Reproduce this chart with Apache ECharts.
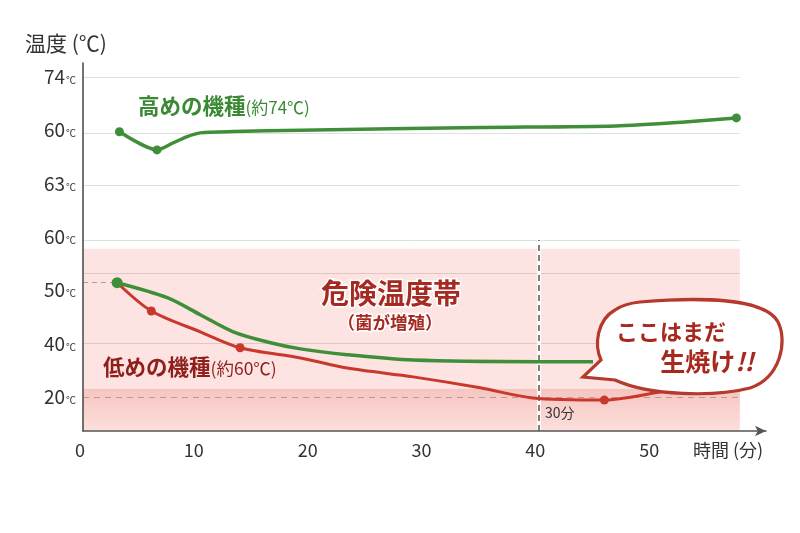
<!DOCTYPE html>
<html><head><meta charset="utf-8">
<script src="https://cdn.jsdelivr.net/npm/echarts@6/dist/echarts.min.js"></script>
<style>html,body{margin:0;padding:0;background:#fff}#c{width:800px;height:533px}</style>
</head><body><div id="c"></div>
<script>
// ---- data (y values are in the chart's evenly spaced label units) ----
const timeTicks = [0, 10, 20, 30, 40, 50];
const yLevels = [0, 10, 20, 30, 40, 50, 60];
const yTickLabels = ['20', '40', '50', '60', '63', '60', '74'];
const gridLevels = [60, 49.5, 39.6, 29.4, 23.2, 10];

const highTime = [3.2, 6.5, 7.9, 9.1, 10.3, 13.2, 19.1, 35.0, 46.8, 52.6, 57.4];
const highTemp = [49.7, 46.3, 47.6, 48.75, 49.5, 49.75, 50.0, 50.5, 50.8, 51.5, 52.3];
const highMarkers = [0, 1, 10];

const midTime = [3.0, 7.4, 10.3, 13.2, 16.2, 19.1, 23.2, 29.0, 39.9, 44.8];
const midTemp = [21.4, 18.6, 15.4, 12.2, 10.3, 9.0, 7.9, 6.9, 6.6, 6.6];
const midMarkers = [0];

const lowTime = [3.0, 6.0, 10.3, 13.8, 19.1, 23.2, 29.0, 34.9, 39.5, 45.8, 50.7, 52.5];
const lowTemp = [21.4, 16.1, 12.2, 9.2, 7.3, 5.4, 3.75, 1.7, -0.2, -0.6, 0.9, 1.5];
const lowMarkers = [1, 3, 9];

const dangerTop = 27.75, lowBandTop = 1.5, limitLevel = 0, checkTime = 40;
const yMin = -6.4, yMax = 62.6, xMax = 60, plotEnd = 57.7;

const FONT = '"Noto Sans CJK JP", "Noto Sans", sans-serif';
const GREEN = '#3f8f3a', RED = '#c9382c';
const BUBBLE = 'M 640 302 C 700 297 765 298 778 322 C 788 342 780 378 750 388 C 715 397 650 396 615 380 L 583 377 L 601 360 C 594 345 597 320 615 310 C 622 305 630 303 640 302 Z';

function build(t, v, markers, size) {
  return t.map((x, i) => markers.includes(i)
    ? { value: [x, v[i]], symbolSize: size }
    : { value: [x, v[i]], symbolSize: 0 });
}

const chart = echarts.init(document.getElementById('c'));
chart.setOption({
  animation: false,
  textStyle: { fontFamily: FONT },
  grid: { left: 83, right: 34, top: 63, bottom: 102 },
  xAxis: {
    type: 'value', min: 0, max: xMax, interval: 10, z: 10,
    axisLine: { onZero: false, lineStyle: { color: '#555', width: 1.5 }, symbol: ['none', 'arrow'], symbolSize: [8, 11] },
    axisTick: { show: false },
    splitLine: { show: false },
    axisLabel: {
      customValues: timeTicks,
      color: '#333', fontSize: 18, margin: 10, fontFamily: FONT, padding: [0, 6, 0, 0]
    }
  },
  yAxis: {
    type: 'value', min: yMin, max: yMax, z: 10,
    axisLine: { show: true, onZero: false, lineStyle: { color: '#444', width: 1.5 } },
    axisTick: { show: false },
    splitLine: { show: false },
    axisLabel: {
      customValues: yLevels, margin: 7,
      formatter: v => '{n|' + yTickLabels[yLevels.indexOf(Math.round(v))] + '}{u|℃}',
      rich: {
        n: { fontSize: 19, color: '#333', fontFamily: FONT },
        u: { fontSize: 10, color: '#333', fontFamily: FONT, padding: [7, 0, 0, 1] }
      }
    }
  },
  series: [
    { // danger band
      type: 'line', data: [], z: 1, silent: true,
      markArea: {
        silent: true,
        data: [
          [{ coord: [0, dangerTop], itemStyle: { color: '#fde3e1' } }, { coord: [plotEnd, lowBandTop] }],
          [{ coord: [0, lowBandTop], itemStyle: { color: {
            type: 'linear', x: 0, y: 0, x2: 0, y2: 1,
            colorStops: [{ offset: 0, color: '#f6c5c1' }, { offset: 1, color: '#fcdfdc' }] } } },
           { coord: [plotEnd, yMin] }]
        ]
      }
    },
    { // grid lines and guides
      type: 'line', data: [], z: 2, silent: true,
      markLine: {
        silent: true, symbol: 'none', label: { show: false },
        data: gridLevels.map(g => [
          { coord: [0, g], lineStyle: { color: 'rgba(0,0,0,0.12)', width: 1, type: 'solid' } },
          { coord: [plotEnd, g] }
        ]).concat([
          [{ coord: [0, limitLevel], lineStyle: { color: '#c49692', width: 1.2, type: [6, 5] } }, { coord: [plotEnd, limitLevel] }],
          [{ coord: [0, midTemp[0]], lineStyle: { color: '#b49a98', width: 1.2, type: [5, 4] } }, { coord: [midTime[0], midTemp[0]] }]
        ])
      }
    },
    {
      name: '高めの機種', type: 'line', z: 5, smooth: 0.25,
      symbol: 'circle', showSymbol: true,
      lineStyle: { color: GREEN, width: 3.5 }, itemStyle: { color: GREEN },
      data: build(highTime, highTemp, highMarkers, 9)
    },
    {
      name: '低めの機種', type: 'line', z: 5, smooth: 0.3,
      symbol: 'circle', showSymbol: true,
      lineStyle: { color: RED, width: 3 }, itemStyle: { color: RED },
      data: build(lowTime, lowTemp, lowMarkers, 9)
    },
    {
      name: '中間', type: 'line', z: 6, smooth: 0.3,
      symbol: 'circle', showSymbol: true,
      lineStyle: { color: GREEN, width: 3.5 }, itemStyle: { color: GREEN },
      data: build(midTime, midTemp, midMarkers, 11)
    },
    { // 30-minute guide
      type: 'line', data: [], z: 7, silent: true,
      markLine: {
        silent: true, symbol: 'none', label: { show: false },
        data: [
          [{ coord: [checkTime, yMin], lineStyle: { color: 'rgba(255,255,255,0.85)', width: 4, type: 'solid' } }, { coord: [checkTime, 29.4] }],
          [{ coord: [checkTime, yMin], lineStyle: { color: '#555', width: 1.5, type: [6, 4] } }, { coord: [checkTime, 29.4] }]
        ]
      }
    },
    { // speech bubble
      type: 'custom', z: 20, silent: true, data: [[0, 0]],
      renderItem: () => ({
        type: 'path',
        shape: { pathData: BUBBLE },
        style: { fill: '#fff', stroke: '#b5392c', lineWidth: 3.2 }
      })
    }
  ],
  graphic: [
    { type: 'text', x: 25, y: 43, z: 100,
      style: { text: '温度 (℃)', fontSize: 21, fill: '#333', verticalAlign: 'middle', fontFamily: FONT } },
    { type: 'text', x: 138, y: 106, z: 100,
      style: { text: '{a|高めの機種}{b|(約74℃)}', verticalAlign: 'middle',
        rich: { a: { fontSize: 21.5, fontWeight: 'bold', fill: '#3a8a34', fontFamily: FONT },
                b: { fontSize: 17, fill: '#3a8a34', fontFamily: FONT, padding: [3, 0, 0, 0] } } } },
    { type: 'text', x: 391, y: 293, z: 100,
      style: { text: '危険温度帯', fontSize: 28, fontWeight: 'bold', fill: '#a52a22', align: 'center', verticalAlign: 'middle',
        fontFamily: FONT, stroke: '#fff', lineWidth: 3 } },
    { type: 'text', x: 390, y: 322, z: 100,
      style: { text: '（菌が増殖）', fontSize: 17.5, fontWeight: 'bold', fill: '#a52a22', align: 'center', verticalAlign: 'middle',
        fontFamily: FONT, stroke: '#fff', lineWidth: 3 } },
    { type: 'text', x: 103, y: 367, z: 100,
      style: { text: '{a|低めの機種}{b|(約60℃)}', verticalAlign: 'middle',
        rich: { a: { fontSize: 21.5, fontWeight: 'bold', fill: '#8e1f1a', fontFamily: FONT },
                b: { fontSize: 17.5, fill: '#8e1f1a', fontFamily: FONT, padding: [3, 0, 0, 0] } } } },
    { type: 'text', x: 545, y: 413, z: 100,
      style: { text: '30分', fontSize: 14, fill: '#333', verticalAlign: 'middle', fontFamily: FONT } },
    { type: 'text', x: 728, y: 450, z: 100,
      style: { text: '時間 (分)', fontSize: 18, fill: '#333', align: 'center', verticalAlign: 'middle', fontFamily: FONT } },
    { type: 'text', x: 671, y: 332, z: 101,
      style: { text: 'ここはまだ', fontSize: 22, fontWeight: 'bold', fill: '#a8281e', align: 'center', verticalAlign: 'middle', fontFamily: FONT } },
    { type: 'text', x: 707, y: 361, z: 101,
      style: { text: '{a|生焼け}{b|!!}', align: 'center', verticalAlign: 'middle',
        rich: { a: { fontSize: 25, fontWeight: 'bold', fill: '#a8281e', fontFamily: FONT },
                b: { fontSize: 25, fontWeight: 'bold', fontStyle: 'italic', fill: '#a8281e', fontFamily: FONT } } } }
  ]
});
</script></body></html>
